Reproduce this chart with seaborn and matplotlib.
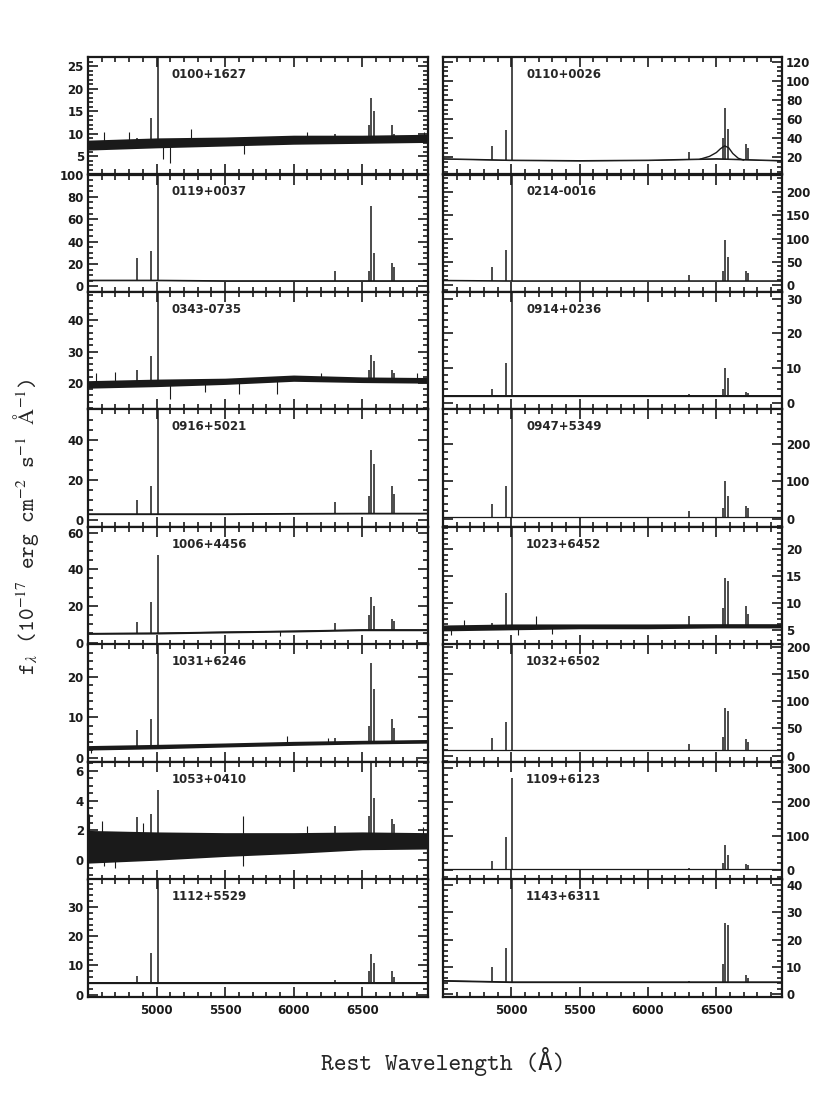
import numpy as np
import matplotlib
matplotlib.use("Agg")
import matplotlib.pyplot as plt
from matplotlib.ticker import MultipleLocator, FixedLocator, AutoMinorLocator
import seaborn as sns

# ------------------------------
# Panel data: left column top->bottom, then right column top->bottom
# ------------------------------
names = ["0100+1627", "0119+0037", "0343-0735", "0916+5021",
         "1006+4456", "1031+6246", "1053+0410", "1112+5529",
         "0110+0026", "0214-0016", "0914+0236", "0947+5349",
         "1023+6452", "1032+6502", "1109+6123", "1143+6311"]

ylims = [(1, 27), (-5, 100), (11.5, 49), (-3.5, 55),
         (-1, 63), (-1, 28), (-1.3, 6.6), (-0.8, 39.4),
         (2, 125), (-15, 238), (-2, 32), (-22, 293),
         (2.2, 24.2), (-12, 205), (-27, 318), (-1, 42)]

ysteps = [5, 20, 10, 20, 20, 10, 2, 10,
          20, 50, 10, 100, 5, 50, 100, 10]

# continuum read at fixed wavelengths
cont_wave = [4500, 5000, 5500, 6000, 6500, 6980]
cont_flux = [
    [7.5, 8.0, 8.3, 8.7, 8.8, 9.0],
    [5.5, 5.5, 5.0, 5.0, 5.0, 5.0],
    [19.5, 20.0, 20.5, 21.5, 21.0, 20.8],
    [3.0, 3.0, 3.0, 3.2, 3.3, 3.3],
    [5.0, 5.2, 5.8, 6.3, 7.0, 7.0],
    [2.5, 2.8, 3.2, 3.6, 3.9, 4.1],
    [0.9, 0.95, 1.05, 1.15, 1.3, 1.3],
    [4.0, 4.0, 4.0, 4.0, 4.0, 4.0],
    [18.5, 17.0, 16.5, 17.0, 18.5, 16.5],
    [10.0, 9.0, 9.0, 9.0, 9.0, 9.0],
    [2.0, 2.0, 2.0, 2.0, 2.0, 2.0],
    [5.0, 5.0, 5.0, 5.0, 5.0, 5.0],
    [5.3, 5.5, 5.6, 5.6, 5.7, 5.7],
    [10.0, 10.0, 10.0, 10.0, 10.0, 10.0],
    [3.0, 3.0, 3.0, 3.0, 3.0, 3.0],
    [5.0, 4.5, 4.5, 4.5, 4.5, 4.5],
]

# half-width of the noise band around the continuum, at the same wavelengths
noise = [
    [1.1, 1.1, 1.0, 1.0, 0.9, 0.9],
    [0.5, 0.5, 0.5, 0.5, 0.5, 0.5],
    [1.2, 1.2, 1.0, 1.0, 0.9, 0.9],
    [0.35, 0.35, 0.35, 0.35, 0.35, 0.35],
    [0.5, 0.5, 0.5, 0.5, 0.5, 0.5],
    [0.55, 0.55, 0.5, 0.5, 0.45, 0.45],
    [1.1, 0.95, 0.8, 0.7, 0.6, 0.55],
    [0.3, 0.3, 0.3, 0.3, 0.3, 0.3],
    [0.5, 0.5, 0.5, 0.5, 0.5, 0.5],
    [0.8, 0.8, 0.8, 0.8, 0.8, 0.8],
    [0.2, 0.2, 0.2, 0.2, 0.2, 0.2],
    [0.9, 0.9, 0.9, 0.9, 0.9, 0.9],
    [0.55, 0.55, 0.45, 0.45, 0.4, 0.4],
    [0.7, 0.7, 0.7, 0.7, 0.7, 0.7],
    [0.7, 0.7, 0.7, 0.7, 0.7, 0.7],
    [0.25, 0.25, 0.25, 0.25, 0.25, 0.25],
]

# Hb, [OIII]4959, [OIII]5007, [OI]6300, [NII]6548, Ha, [NII]6583, [SII]6717, [SII]6731
line_wave = [4861, 4959, 5007, 6300, 6548, 6563, 6583, 6717, 6731]
line_peak = [
    [9, 13.5, 40, 10, 12, 18, 15, 12, 10],
    [25, 32, 180, 14, 14, 72, 30, 21, 17],
    [24, 28.5, 60, 22, 24, 29, 27, 24, 23],
    [10, 17, 80, 9, 12, 35, 28, 17, 13],
    [11, 22, 48, 10.5, 15, 25, 20, 13, 12],
    [7, 9.6, 30, 5, 8, 23.5, 17, 9.5, 7.5],
    [2.9, 3.1, 4.7, 2.3, 3.0, 6.5, 4.2, 2.8, 2.4],
    [6.3, 14.4, 60, 5, 8, 14, 11, 8, 6],
    [32, 49, 200, 26, 40, 72, 50, 34, 30],
    [38, 75, 400, 22, 30, 97, 60, 30, 25],
    [4, 11.5, 40, 2.5, 4, 10, 7, 3, 2.8],
    [40, 88, 400, 22, 30, 100, 60, 35, 28],
    [6.2, 11.8, 26, 7.5, 9, 14.6, 14, 9.4, 8],
    [33, 62, 250, 22, 35, 87, 82, 30, 25],
    [26, 97, 270, 8, 20, 75, 45, 19, 15],
    [10, 17, 60, 5, 11, 26, 25.5, 7, 6],
]

# single-pixel spikes / dips in the noisier spectra
glitch_wave = [
    [4620, 4800, 5050, 5100, 5250, 5640, 6100, 6950],
    [], [4560, 4700, 5100, 5350, 5600, 5880, 6200, 6900],
    [], [5900], [4520, 5950, 6250],
    [4510, 4600, 4620, 4700, 4900, 5630, 5630, 6100, 6940], [],
    [], [], [], [], [4560, 4650, 5050, 5180, 5300], [], [], [],
]
glitch_flux = [
    [10.5, 10.5, 4.5, 3.5, 11, 5.5, 10.5, 10.5],
    [], [23, 23.5, 15, 17, 16.5, 16.5, 23, 23],
    [], [3.5], [1.2, 5.3, 5.0],
    [3.1, 2.6, -0.4, -0.5, 2.5, 3.0, -0.4, 2.3, 2.2], [],
    [], [], [], [], [4.0, 6.8, 4.0, 7.5, 4.2], [], [], [],
]

# broad Halpha wing of 0110+0026
broad_wave = [6380, 6450, 6500, 6530, 6560, 6590, 6620, 6660, 6700]
broad_flux = [18, 21, 25, 29, 32, 30, 24, 19, 17]

# ------------------------------
# Plot
# ------------------------------
sns.set_theme(style="ticks")
plt.rcParams["font.family"] = ["DejaVu Sans"]
plt.rcParams["mathtext.fontset"] = "stix"

fig = plt.figure(figsize=(8.3, 11.08), dpi=100)
col_x = [88 / 830, 443 / 830]
col_w = [340 / 830, 339 / 830]
row_h = 117.5 / 1108
top = 1 - 57 / 1108

for i, name in enumerate(names):
    col, row = divmod(i, 8)
    ax = fig.add_axes([col_x[col], top - (row + 1) * row_h, col_w[col], row_h])
    flux = np.array(cont_flux[i])
    half = np.array(noise[i])

    ax.fill_between(cont_wave, flux - half, flux + half, color="k", lw=0)
    sns.lineplot(x=cont_wave, y=flux, color="k", lw=0.9, ax=ax,
                 estimator=None, sort=False)
    base = np.interp(line_wave, cont_wave, flux)
    ax.vlines(line_wave, base, line_peak[i], color="k", lw=1.1)
    if glitch_wave[i]:
        gbase = np.interp(glitch_wave[i], cont_wave, flux)
        ax.vlines(glitch_wave[i], gbase, glitch_flux[i], color="k", lw=0.8)
    if name == "0110+0026":
        sns.lineplot(x=broad_wave, y=broad_flux, color="k", lw=1.0, ax=ax,
                     estimator=None, sort=False)

    ax.set_xlim(4500, 6980)
    ax.set_ylim(*ylims[i])
    ax.xaxis.set_major_locator(FixedLocator([5000, 5500, 6000, 6500]))
    ax.xaxis.set_minor_locator(MultipleLocator(100))
    ax.yaxis.set_major_locator(MultipleLocator(ysteps[i]))
    ax.yaxis.set_minor_locator(AutoMinorLocator())
    ax.set_xlabel("")
    ax.set_ylabel("")
    ax.tick_params(which="both", direction="in", top=True, right=True,
                   width=1.2, colors="k", labelsize=8.5, pad=3)
    ax.tick_params(which="major", length=7)
    ax.tick_params(which="minor", length=3.5)
    ax.tick_params(axis="x", which="major", pad=5)
    ax.tick_params(labelbottom=(row == 7), labelleft=(col == 0),
                   labelright=(col == 1))
    for lab in ax.get_xticklabels() + ax.get_yticklabels():
        lab.set_fontweight("bold")
    for sp in ax.spines.values():
        sp.set_linewidth(1.6)
        sp.set_color("k")

    ax.text(0.245, 0.855, name, transform=ax.transAxes, fontsize=8.5,
            fontweight="bold", va="center", ha="left")

label_font = ["cmtt10", "DejaVu Sans Mono"]
fig.text(0.534, 1 - 1061 / 1108, "Rest Wavelength (Å)", ha="center", va="center",
         fontsize=17.5, family=label_font)
fig.text(0.031, 1 - 527 / 1108,
         r"f$_\lambda$ (10$^{-17}$ erg cm$^{-2}$ s$^{-1}$ $\mathrm{Å}^{-1}$)",
         rotation=90, ha="center", va="center", fontsize=16, family=label_font)

fig.savefig("out.png", dpi=100, facecolor="white")
